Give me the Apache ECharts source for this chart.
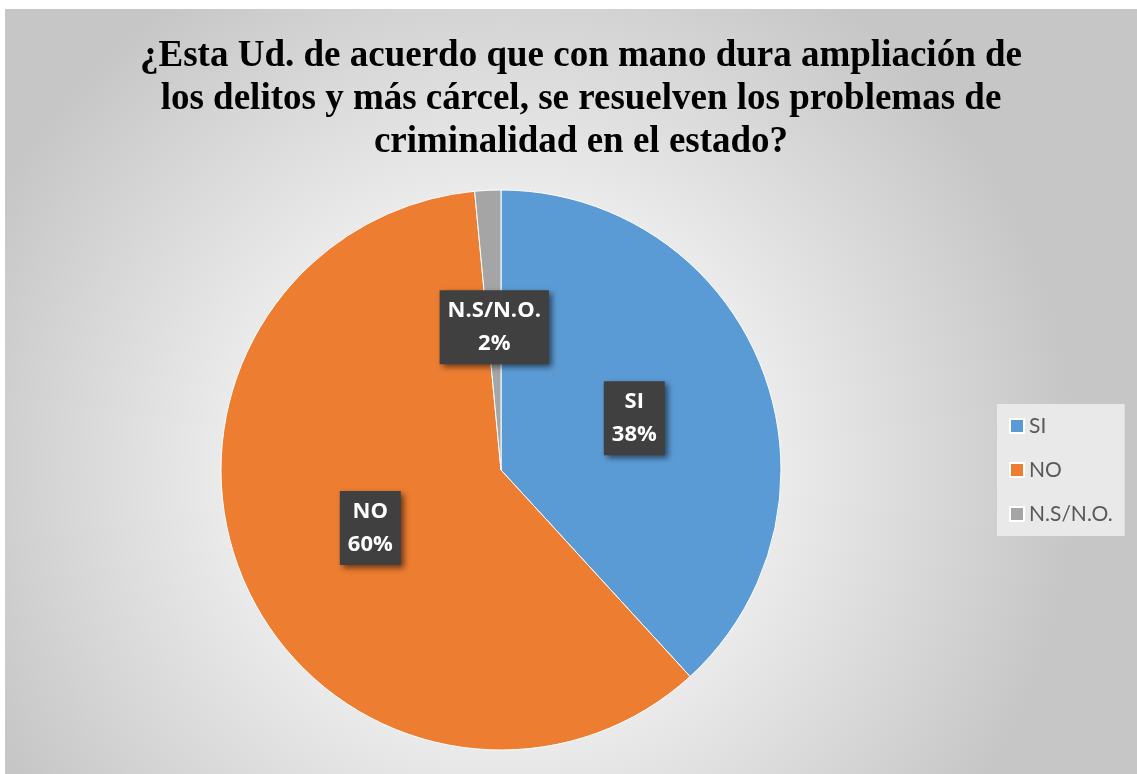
<!DOCTYPE html>
<html>
<head>
<meta charset="utf-8">
<style>
html,body{margin:0;padding:0;background:#fff;}
#chart{width:1137px;height:774px;}
</style>
<script src="https://cdn.jsdelivr.net/npm/echarts@6/dist/echarts.min.js"></script>
</head>
<body>
<div id="chart"></div>
<script>
const titleText = '¿Esta Ud. de acuerdo que con mano dura ampliación de\nlos delitos y más cárcel, se resuelven los problemas de\ncriminalidad en el estado?';
const categories = ['SI', 'NO', 'N.S/N.O.'];
const values = [38.2, 60.3, 1.5];
const colors = ['#5b9bd5', '#ed7d31', '#a5a5a5'];

const chart = echarts.init(document.getElementById('chart'));
const data = categories.map((c, i) => ({ name: c, value: values[i], itemStyle: { color: colors[i] } }));

chart.setOption({
  backgroundColor: '#ffffff',
  animation: false,
  graphic: [{
    type: 'rect',
    left: 5, top: 9,
    shape: { width: 1132, height: 765 },
    z: -10,
    silent: true,
    style: {
      fill: {
        type: 'radial', x: 0.44, y: 0.6, r: 0.75,
        colorStops: [
          { offset: 0, color: '#ffffff' },
          { offset: 0.35, color: '#f4f4f4' },
          { offset: 1, color: '#c6c6c6' }
        ]
      }
    }
  }],
  title: {
    text: titleText,
    left: 576, top: 30, textAlign: 'center',
    textStyle: {
      fontFamily: 'Liberation Serif', fontWeight: 'bold', fontSize: 37,
      lineHeight: 43, color: '#000'
    }
  },
  legend: {
    orient: 'vertical',
    left: 997, top: 404,
    padding: [11, 12, 11, 12],
    backgroundColor: '#e9e9e9',
    itemWidth: 14, itemHeight: 14, itemGap: 22,
    icon: 'rect',
    data: categories,
    textStyle: { fontFamily: 'Lato', fontSize: 21, color: '#595959', lineHeight: 22 }
  },
  series: [{
    type: 'pie',
    center: [501, 470],
    radius: [0, 280],
    startAngle: 90,
    clockwise: true,
    data: data,
    itemStyle: { borderColor: '#fff', borderWidth: 1 },
    label: {
      show: true,
      position: 'inside',
      formatter: p => p.name + '\n' + Math.round(p.percent) + '%',
      fontFamily: 'Open Sans', fontWeight: 'bold', fontSize: 22, lineHeight: 33,
      color: '#fff',
      backgroundColor: '#404040',
      padding: [4, 8, 4, 8],
      shadowColor: 'rgba(0,0,0,0.55)', shadowBlur: 6, shadowOffsetX: 3, shadowOffsetY: 3
    },
    labelLine: { show: false },
    emphasis: { disabled: true }
  }]
});
</script>
</body>
</html>
